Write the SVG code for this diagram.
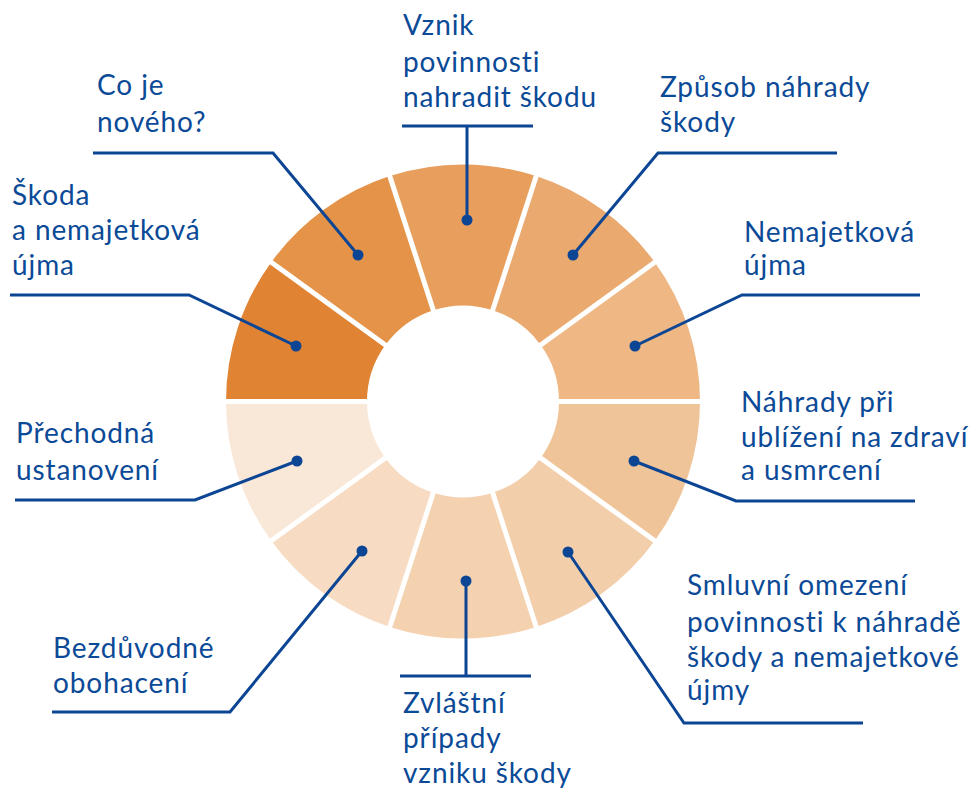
<svg xmlns="http://www.w3.org/2000/svg" width="974" height="789" viewBox="0 0 974 789">
<style>
.lbl{font-family:Lato,"Open Sans","Liberation Sans",sans-serif;font-size:28px;letter-spacing:0.9px;fill:#0B4A97}
.con{fill:none;stroke:#0B4594;stroke-width:3}
.dot{fill:#0B4594}
.sep{stroke:#fff;stroke-width:5}
</style>
<rect width="974" height="789" fill="#fff"/>
<g id="ring">
<path id="seg-vznik" d="M389.763,176.099 A237,237 0 0 1 536.237,176.099 L492.666,310.199 A96,96 0 0 0 433.334,310.199 Z" fill="#E89F5E"/>
<path id="seg-zpusob" d="M536.237,176.099 A237,237 0 0 1 654.737,262.195 L540.666,345.073 A96,96 0 0 0 492.666,310.199 Z" fill="#EAA96F"/>
<path id="seg-nemajetkova" d="M654.737,262.195 A237,237 0 0 1 700,401.5 L559,401.5 A96,96 0 0 0 540.666,345.073 Z" fill="#EEB784"/>
<path id="seg-nahrady" d="M700,401.5 A237,237 0 0 1 654.737,540.805 L540.666,457.927 A96,96 0 0 0 559,401.5 Z" fill="#F0C499"/>
<path id="seg-smluvni" d="M654.737,540.805 A237,237 0 0 1 536.237,626.901 L492.666,492.801 A96,96 0 0 0 540.666,457.927 Z" fill="#F3CEAB"/>
<path id="seg-zvlastni" d="M536.237,626.901 A237,237 0 0 1 389.763,626.901 L433.334,492.801 A96,96 0 0 0 492.666,492.801 Z" fill="#F4D1AF"/>
<path id="seg-bezduvodne" d="M389.763,626.901 A237,237 0 0 1 271.263,540.805 L385.334,457.927 A96,96 0 0 0 433.334,492.801 Z" fill="#F7DBC2"/>
<path id="seg-prechodna" d="M271.263,540.805 A237,237 0 0 1 226,401.5 L367,401.5 A96,96 0 0 0 385.334,457.927 Z" fill="#F9E7D7"/>
<path id="seg-skoda" d="M226,401.5 A237,237 0 0 1 271.263,262.195 L385.334,345.073 A96,96 0 0 0 367,401.5 Z" fill="#E08333"/>
<path id="seg-coje" d="M271.263,262.195 A237,237 0 0 1 389.763,176.099 L433.334,310.199 A96,96 0 0 0 385.334,345.073 Z" fill="#E49349"/>
<g class="sep">
<line x1="553" y1="401.5" x2="706" y2="401.5"/>
<line x1="535.812" y1="348.599" x2="659.591" y2="258.668"/>
<line x1="490.812" y1="315.905" x2="538.091" y2="170.393"/>
<line x1="435.188" y1="315.905" x2="387.909" y2="170.393"/>
<line x1="390.188" y1="348.599" x2="266.409" y2="258.668"/>
<line x1="373" y1="401.5" x2="220" y2="401.5"/>
<line x1="390.188" y1="454.401" x2="266.409" y2="544.332"/>
<line x1="435.188" y1="487.095" x2="387.909" y2="632.607"/>
<line x1="490.812" y1="487.095" x2="538.091" y2="632.607"/>
<line x1="535.812" y1="454.401" x2="659.591" y2="544.332"/>
</g>
</g>
<g id="connectors">
<path class="con" d="M402,126 H533 M467,126 V220"/>
<path class="con" d="M93,153 H273 L358,255"/>
<path class="con" d="M10,295 H189 L296,346"/>
<path class="con" d="M15,500 H195 L297,461"/>
<path class="con" d="M52,712 H230 L362,551"/>
<path class="con" d="M400,676 H531 M466,676 V581"/>
<path class="con" d="M863,723 H684 L568,552"/>
<path class="con" d="M915,501 H736 L634,461"/>
<path class="con" d="M920,295 H742 L635,346"/>
<path class="con" d="M837,153 H658 L573,255"/>
<circle class="dot" cx="467" cy="220" r="5.5"/>
<circle class="dot" cx="358" cy="255" r="5.5"/>
<circle class="dot" cx="296" cy="346" r="5.5"/>
<circle class="dot" cx="297" cy="461" r="5.5"/>
<circle class="dot" cx="362" cy="551" r="5.5"/>
<circle class="dot" cx="466" cy="581" r="5.5"/>
<circle class="dot" cx="568" cy="552" r="5.5"/>
<circle class="dot" cx="634" cy="461" r="5.5"/>
<circle class="dot" cx="635" cy="346" r="5.5"/>
<circle class="dot" cx="573" cy="255" r="5.5"/>
</g>
<g id="label-vznik"><text class="lbl" x="403" y="35">Vznik</text><text class="lbl" x="403" y="72">povinnosti</text><text class="lbl" x="403" y="107">nahradit škodu</text></g>
<g id="label-coje"><text class="lbl" x="97" y="95">Co je</text><text class="lbl" x="97" y="132">nového?</text></g>
<g id="label-skoda"><text class="lbl" x="12" y="205">Škoda</text><text class="lbl" x="12" y="240">a nemajetková</text><text class="lbl" x="12" y="275">újma</text></g>
<g id="label-zpusob"><text class="lbl" x="660" y="97">Způsob náhrady</text><text class="lbl" x="660" y="132">škody</text></g>
<g id="label-nemajetkova"><text class="lbl" x="744" y="242">Nemajetková</text><text class="lbl" x="744" y="275">újma</text></g>
<g id="label-nahrady"><text class="lbl" x="741" y="412">Náhrady při</text><text class="lbl" x="741" y="447">ublížení na zdraví</text><text class="lbl" x="741" y="480">a usmrcení</text></g>
<g id="label-smluvni"><text class="lbl" x="687" y="595">Smluvní omezení</text><text class="lbl" x="687" y="632">povinnosti k náhradě</text><text class="lbl" x="687" y="667">škody a nemajetkové</text><text class="lbl" x="687" y="700">újmy</text></g>
<g id="label-zvlastni"><text class="lbl" x="403" y="713">Zvláštní</text><text class="lbl" x="403" y="748">případy</text><text class="lbl" x="403" y="783">vzniku škody</text></g>
<g id="label-prechodna"><text class="lbl" x="16" y="443">Přechodná</text><text class="lbl" x="16" y="480">ustanovení</text></g>
<g id="label-bezduvodne"><text class="lbl" x="53" y="658">Bezdůvodné</text><text class="lbl" x="53" y="693">obohacení</text></g>
</svg>
